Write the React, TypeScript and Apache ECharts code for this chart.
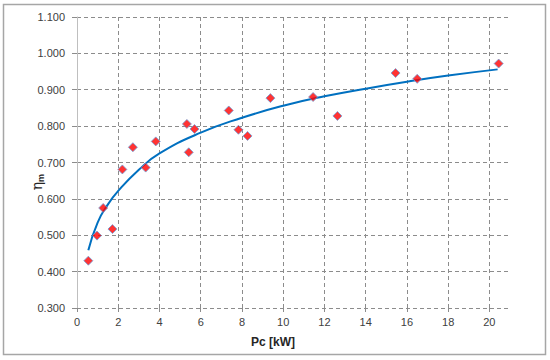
import React, { useEffect, useRef } from "react";
import * as echarts from "echarts";

const pcValues = [0.55, 0.97, 1.27, 1.72, 2.2, 2.71, 3.33, 3.82, 5.33, 5.42, 5.7, 7.36, 7.83, 8.27, 9.38, 11.45, 12.63, 15.45, 16.5, 20.45];
const etaValues = [0.430, 0.499, 0.575, 0.517, 0.681, 0.742, 0.686, 0.758, 0.806, 0.728, 0.792, 0.843, 0.790, 0.773, 0.877, 0.880, 0.828, 0.946, 0.930, 0.972];

const trendX = [0.55, 1, 1.5, 2, 3, 4, 6, 8, 10, 12, 14, 16, 18, 20.4];
const trendY = [0.459, 0.535, 0.585, 0.622, 0.68, 0.725, 0.782, 0.823, 0.856, 0.882, 0.903, 0.922, 0.939, 0.956];

const xTicks = [0, 2, 4, 6, 8, 10, 12, 14, 16, 18, 20];

export default function App() {
  const ref = useRef<HTMLDivElement>(null);
  useEffect(() => {
    document.body.style.margin = "0";
    const chart = echarts.init(ref.current!, null, { renderer: "svg" });
    const font = "Liberation Sans";
    chart.setOption({
      animation: false,
      backgroundColor: "#ffffff",
      grid: { left: 77, right: 40, top: 17, bottom: 52 },
      xAxis: {
        type: "value",
        min: 0,
        max: 21,
        interval: 2,
        axisLine: { show: false },
        axisTick: { show: true, length: 4, customValues: xTicks, lineStyle: { color: "#8c8c8c" } },
        axisLabel: { customValues: xTicks, color: "#404040", fontFamily: font, fontSize: 11, margin: 8 },
        splitLine: { show: true, showMinLine: false, lineStyle: { color: "#8c8c8c", type: [4, 3], width: 1 } },
      },
      yAxis: {
        type: "value",
        min: 0.3,
        max: 1.1,
        interval: 0.1,
        axisLine: { show: true, lineStyle: { color: "#bfbfbf", width: 1 } },
        axisTick: { show: true, length: 5, lineStyle: { color: "#8c8c8c" } },
        axisLabel: { color: "#404040", fontFamily: font, fontSize: 11, margin: 12, formatter: (v: number) => v.toFixed(3) },
        splitLine: { show: true, lineStyle: { color: "#8c8c8c", type: [4, 3], width: 1 } },
      },
      graphic: [
        { type: "rect", shape: { x: 3.5, y: 4.5, width: 542, height: 350 }, style: { fill: "none", stroke: "#a6a6a6", lineWidth: 1.5 }, silent: true },
        { type: "text", x: 273, y: 342, style: { text: "Pc [kW]", fontFamily: font, fontWeight: "bold", fontSize: 12, fill: "#262626", align: "center", verticalAlign: "middle" } },
        { type: "text", x: 37, y: 186, rotation: Math.PI / 2, style: { text: "η", fontFamily: "DejaVu Serif", fontSize: 14, fill: "#262626", align: "center", verticalAlign: "middle" } },
        { type: "text", x: 41, y: 178, rotation: Math.PI / 2, style: { text: "m", fontFamily: font, fontSize: 9, fontWeight: "bold", fill: "#262626", align: "center", verticalAlign: "middle" } },
      ],
      series: [
        {
          type: "line",
          data: trendX.map((x, i) => [x, trendY[i]]),
          smooth: true,
          showSymbol: false,
          symbol: "none",
          lineStyle: { color: "#0070c0", width: 2 },
          z: 2,
        },
        {
          type: "scatter",
          data: pcValues.map((x, i) => [x, etaValues[i]]),
          symbol: "diamond",
          symbolSize: 9,
          itemStyle: { color: "#ff0000", borderColor: "#6f9fd8", borderWidth: 1 },
          z: 3,
        },
      ],
    });
    return () => chart.dispose();
  }, []);
  return <div ref={ref} style={{ width: 550, height: 360 }} />;
}
